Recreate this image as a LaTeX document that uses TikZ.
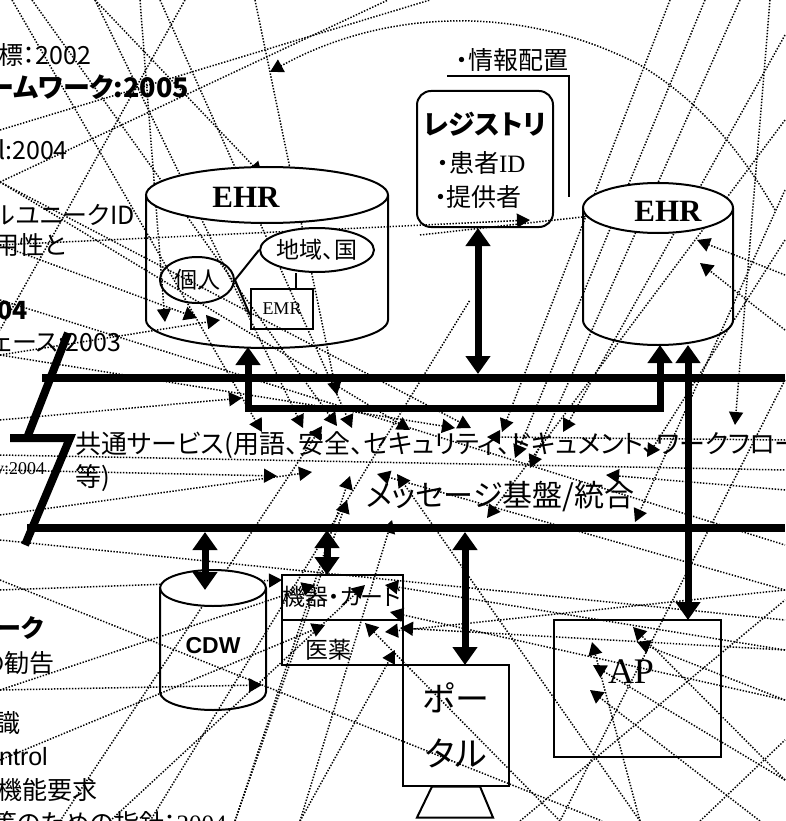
\documentclass[tikz,border=0pt]{standalone}
\usepackage{fontspec}
\setmainfont{Noto Sans CJK JP}[RawFeature=+palt]
\newfontfamily\serifjp{Liberation Serif}
\newfontfamily\sansl{Liberation Sans}
\usetikzlibrary{arrows.meta,shapes.geometric}

\tikzset{
  outl/.style={line width=2pt},
  bus/.style={line width=8pt},
  bigarr/.style={line width=7pt,{Triangle[length=18pt,width=24pt]}-{Triangle[length=18pt,width=24pt]}},
  mesh/.style={line width=1.5pt,dash pattern=on 1.4pt off 1.6pt},
  tipm/.style={-{Triangle[length=13pt,width=14pt]}},
  lbl/.style={inner sep=0pt,font=\fontsize{25}{28}\selectfont},
}
% cylinder: centre x, top y, bottom y, x radius, y radius
\newcommand{\dbcyl}[5]{%
  \path[draw,outl,fill=white] (#1,#2) ellipse [x radius=#4, y radius=#5];
  \path[draw,outl] ({#1-#4},#2) -- ({#1-#4},#3) arc[start angle=180,end angle=0,x radius=#4,y radius=#5] -- ({#1+#4},#2);}

\begin{document}
\begin{tikzpicture}[x=1pt,y=-1pt]
\useasboundingbox[fill=white] (0,0) rectangle (785,821);

% dotted mesh
\foreach \i/\x/\y in {1/12/0,2/32/0,3/95/0,4/140/0,5/160/0,6/255/0,7/670/0,8/705/0,9/740/0,10/770/0,
  11/785/35,12/785/120,13/785/190,14/785/240,15/785/275,16/785/330,17/785/440,18/785/490,19/785/590,
  20/785/650,21/785/700,22/785/780,23/760/821,24/640/821,25/560/821,26/300/821,27/235/821,28/110/821,
  29/60/821,30/0/760,31/0/690,32/0/590,33/0/515,34/0/470,35/0/420,36/0/355,37/0/245,38/0/182,
  41/262/432,42/303/428,43/322/426,44/337/426,45/352/428,46/277/476,47/312/472,48/350/476,49/377/474,
  50/397/474,51/347/500,52/392/520,53/337/395,54/242/398,55/410/430,56/455/428,57/471/428,58/487/437,
  59/502/432,60/487/518,61/515/458,62/530/468,63/563/432,64/606/475,65/647/457,66/735/425,67/635/522,
  68/165/322,69/197/318,70/220/320,71/262/175,73/690/205,74/697/240,75/700/263,76/530/220,
  77/633/627,78/637/642,79/592/642,80/593/665,81/590/690,83/262/685,85/282/580,86/315/585,87/365/585,
  88/385/585,89/325/625,90/365/623,91/390/612,92/400/628,93/385/632,94/395/650,96/420/235,
  98/388/0,99/0/300,100/785/545,101/150/821,102/470/300,103/0/580,104/602/821,
  105/520/821,106/785/600,107/700/821,108/785/740,109/0/130,110/430/0,111/185/0,112/0/330,
  113/785/380,114/560/821,115/0/540,116/785/620,117/0/455,118/785/470}
  \coordinate (m\i) at (\x,\y);

\foreach \a/\b in {1/41,2/44,3/42,4/68,5/45,37/69,36/70,35/54,34/46,33/47,32/85,31/86,30/89,29/43,
  28/87,27/48,26/94,25/90,24/79,23/81,22/80,21/91,20/92,19/93,18/64,17/58,16/75,15/74,96/73,10/66,
  11/63,9/62,8/61,7/59,36/56,38/57,14/65,13/67,12/60,6/53,38/55,26/52,27/51,24/50,19/49,20/88,21/78,
  22/77,31/83,3/71,37/76}
  \path[draw,mesh,tipm] (m\a) -- (m\b);
\foreach \a/\b in {38/98,99/100,101/102,103/104,105/106,107/108,109/110,111/112,113/114,115/116,117/118}
  \path[draw,mesh] (m\a) -- (m\b);

\coordinate (arc1) at (775,210);
\coordinate (arc2) at (640,65);
\coordinate (arc3) at (270,72);
\path[draw,mesh,tipm] (arc1) .. controls (735,140) and (690,95) .. (arc2) .. controls (523,4) and (386,8) .. (arc3);

% left texts
\node[lbl,anchor=west] (t1) at (-2,55) {標：2002};
\node[lbl,anchor=west,font=\fontsize{27}{28}\selectfont\bfseries] (t2) at (-12,87) {ームワーク:2005};
\node[lbl,anchor=west] (t3) at (-2,150) {l:2004};
\node[lbl,anchor=west] (t4) at (-8,215) {ルユニークID};
\node[lbl,anchor=west] (t5) at (-6,245) {用性と};
\node[lbl,anchor=west,font=\fontsize{25}{28}\selectfont\bfseries] (t6) at (-3,310) {04};
\node[lbl,anchor=west] (t7) at (-8,343) {ェース:2003};
\node[lbl,anchor=west,font=\fontsize{18}{22}\selectfont\serifjp] (t8) at (-5,470) {y:2004};
\node[lbl,anchor=west,font=\fontsize{25}{28}\selectfont\bfseries] (t9) at (-3,628) {ーク};
\node[lbl,anchor=east] (t10) at (55,663) {の勧告};
\node[lbl,anchor=west] (t11) at (-5,723) {識};
\node[lbl,anchor=east,font=\fontsize{25}{28}\selectfont\sansl] (t12) at (48,757) {Control};
\node[lbl,anchor=west] (t13) at (-3,790) {機能要求};
\node[lbl,anchor=west] (t14) at (-8,823) {等のための指針：{\serifjp 2004}};

% EHR (left)
\dbcyl{267}{195}{320}{121}{28}
\node[font=\fontsize{31}{34}\selectfont\serifjp\bfseries] (ehrl) at (246,197) {EHR};
\node[draw,outl,ellipse,minimum width=74pt,minimum height=46pt,inner sep=0pt,font=\fontsize{23}{26}\selectfont] (kojin) at (197,280) {個人};
\node[draw,outl,ellipse,fill=white,minimum width=108pt,minimum height=44pt,inner sep=0pt,font=\fontsize{23}{26}\selectfont] (chiiki) at (317,250) {地域、国};
\node[draw,outl,minimum width=62pt,minimum height=40pt,inner sep=0pt,font=\fontsize{18}{20}\selectfont\serifjp] (emr) at (282,309) {EMR};
\path[draw,outl] (kojin.east) -- (chiiki.west);
\path[draw,outl] (kojin.east) -- ([yshift=-6pt]emr.west);
\path[draw,outl] (chiiki.south -| 296,0) -- (emr.north -| 296,0);

% EHR (right)
\dbcyl{658}{208}{320}{75}{25}
\node[font=\fontsize{31}{34}\selectfont\serifjp\bfseries] (ehrr) at (668,211) {EHR};

% registry
\node[draw,outl,rounded corners=14pt,minimum width=136pt,minimum height=136pt] (reg) at (485,159) {};
\node[font=\fontsize{27}{30}\selectfont\bfseries,inner sep=0pt] (regt) at (485,124) {レジストリ};
\node[lbl] (regp) at (481,163) {・患者{\serifjp ID}};
\node[lbl] (regs) at (478,197) {・提供者};
\node[lbl] (hai) at (512,60) {・情報配置};
\coordinate (h1) at (447,76);
\coordinate (h2) at (569,76);
\coordinate (h3) at (569,197);
\path[draw,outl] (h1) -- (h2) -- (h3);

% bus
\coordinate (bt1) at (42,378);
\coordinate (bt2) at (785,378);
\coordinate (bb1) at (27,528);
\coordinate (bb2) at (785,528);
\path[draw,bus] (bt1) -- (bt2);
\path[draw,bus] (bb1) -- (bb2);
\coordinate (z1) at (68,333);
\coordinate (z2) at (27,438);
\coordinate (z3) at (10,438);
\coordinate (z4) at (70,438);
\coordinate (z5) at (25,545);
\path[draw,bus] (z1) -- (z2);
\path[draw,bus] (z3) -- (z4) -- (z5);
\coordinate (u1) at (248,347);
\coordinate (u2) at (248,408);
\coordinate (u3) at (660,408);
\coordinate (u4) at (660,345);
\path[draw,bigarr] (u1) -- (u2) -- (u3) -- (u4);

\node[lbl,anchor=west,font=\fontsize{26}{28}\selectfont] (kyo) at (75,445) {共通サービス(用語、安全、セキュリティ、ドキュメント、ワークフロー};
\node[lbl,anchor=west,font=\fontsize{26}{28}\selectfont] (kyo2) at (75,478) {等)};
\node[inner sep=0pt,font=\fontsize{30}{32}\selectfont] (msg) at (500,497) {メッセージ基盤/統合};

% lower boxes
\dbcyl{213}{588}{692}{53}{18}
\node[font=\fontsize{23}{26}\selectfont\sansl\bfseries] (cdw) at (213,646) {CDW};
\node[draw,outl,minimum width=121pt,minimum height=45pt,inner sep=0pt,font=\fontsize{23}{26}\selectfont] (kiki) at (342,597) {機器・カード};
\node[draw,outl,minimum width=121pt,minimum height=45pt,inner sep=0pt] (iyaku) at (342,642) {};
\node[lbl,font=\fontsize{23}{26}\selectfont] (iyakut) at (328,650) {医薬};
\node[draw,outl,minimum width=106pt,minimum height=121pt,align=center,font=\fontsize{34}{55}\selectfont] (portal) at (456,725) {ポー\\タル};
\path[draw,outl] ([xshift=-24pt]portal.south) -- ([xshift=24pt]portal.south) -- ++(13,31) -- ++(-76,0) -- cycle;
\node[draw,outl,minimum width=167pt,minimum height=137pt] (apbox) at (637,688) {};
\node[font=\fontsize{36}{40}\selectfont\serifjp] (ap) at (631,672) {AP};

% vertical links
\coordinate (a1) at (478,228);
\coordinate (a2) at (478,374);
\coordinate (a3) at (205,532);
\coordinate (a4) at (205,590);
\coordinate (a5) at (327,530);
\coordinate (a6) at (327,575);
\coordinate (a7) at (465,532);
\coordinate (a8) at (465,665);
\coordinate (a9) at (688,345);
\coordinate (a10) at (688,620);
\path[draw,bigarr] (a1) -- (a2);
\path[draw,bigarr] (a3) -- (a4);
\path[draw,bigarr] (a5) -- (a6);
\path[draw,bigarr] (a7) -- (a8);
\path[draw,bigarr] (a9) -- (a10);
\end{tikzpicture}
\end{document}
